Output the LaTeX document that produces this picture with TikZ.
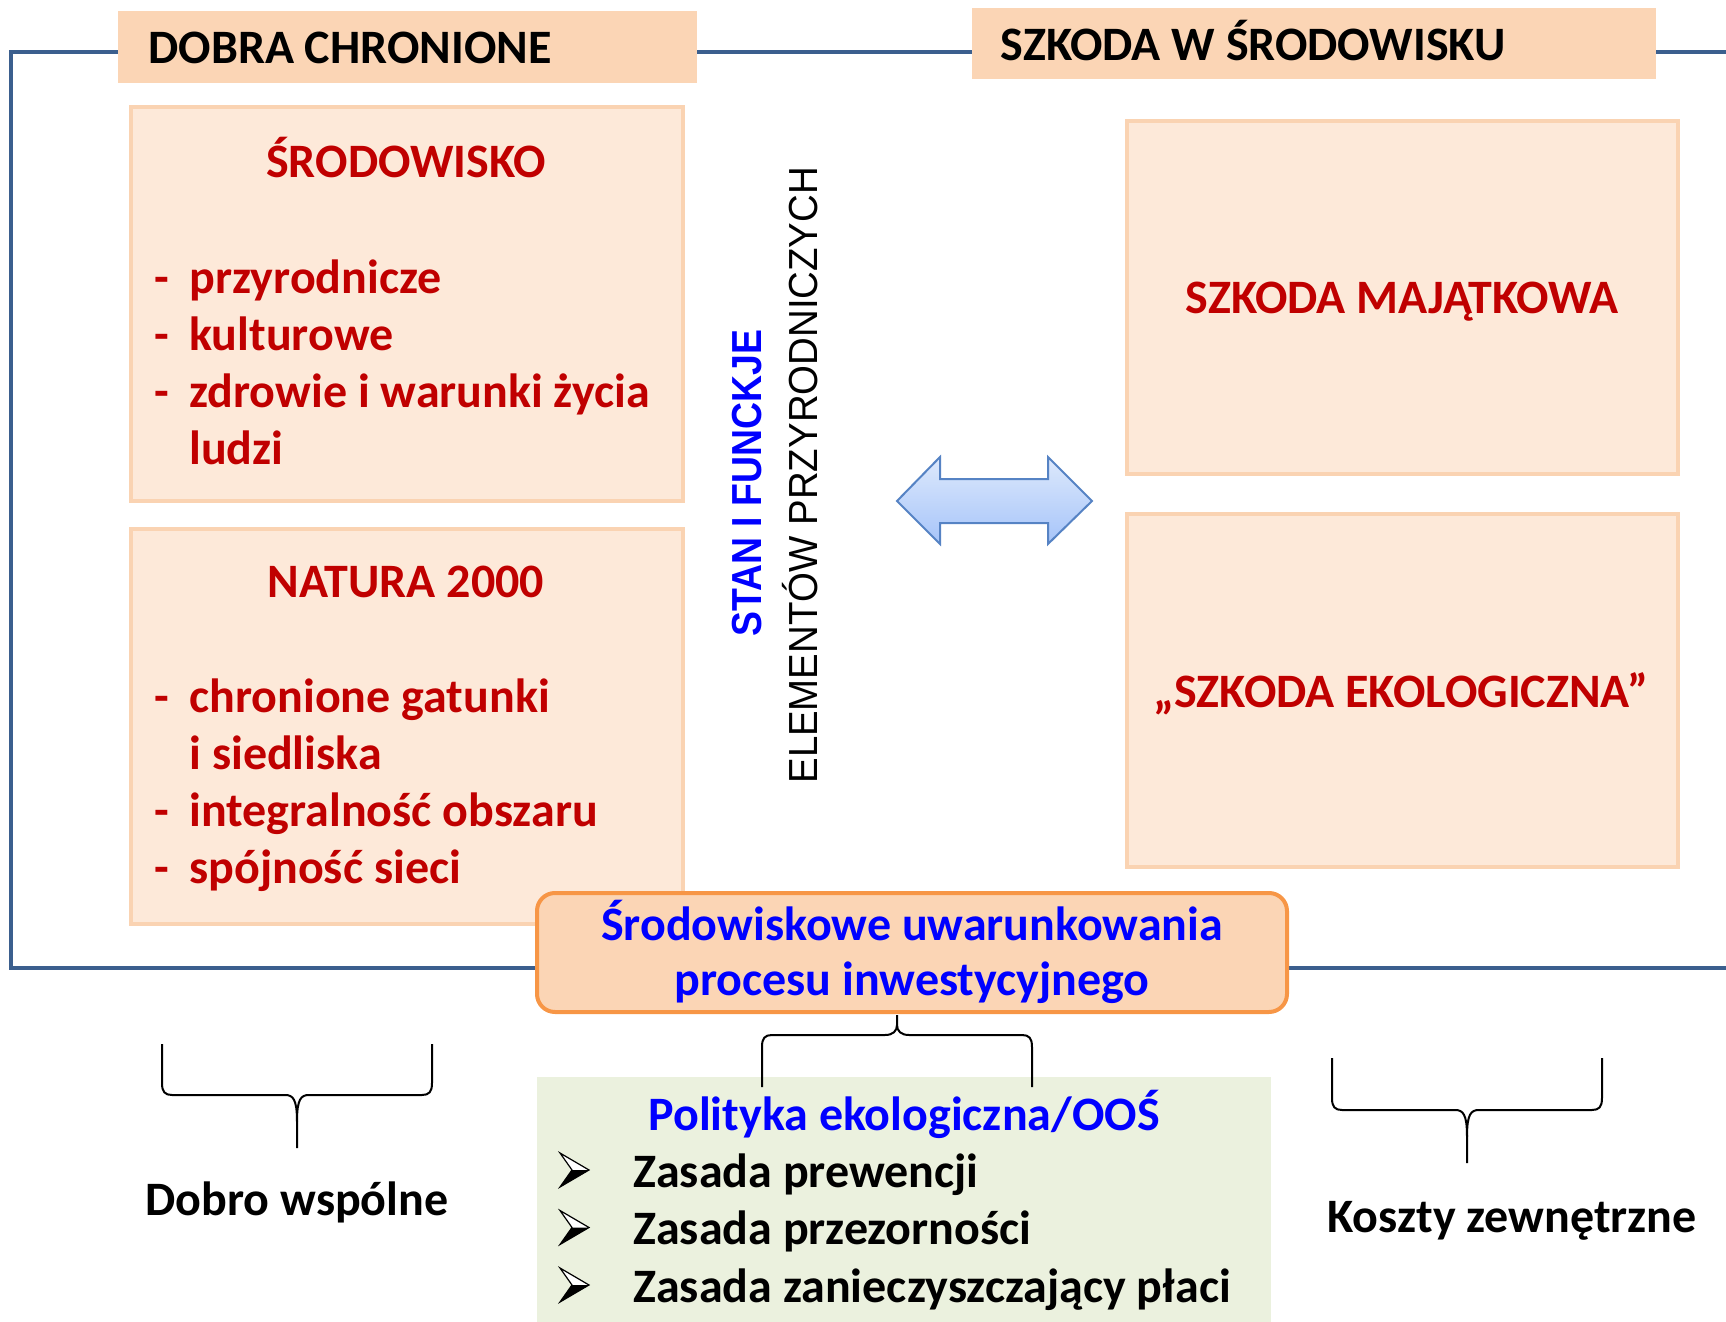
\documentclass[tikz,border=0pt]{standalone}
\usepackage{fontspec}
\setmainfont{Carlito}
\newfontfamily\vertfont{Liberation Sans}
\usepackage{graphicx}
\usepackage{tikz}
\usetikzlibrary{positioning}

\definecolor{framecol}{HTML}{3B5F8E}
\definecolor{hdrfill}{HTML}{FBD5B5}
\definecolor{boxfill}{HTML}{FDE9D9}
\definecolor{boxline}{HTML}{FAD3B2}
\definecolor{txtred}{HTML}{C00000}
\definecolor{txtblue}{HTML}{0000FF}
\definecolor{ornline}{HTML}{F79646}
\definecolor{grnfill}{HTML}{EBF1DE}
\definecolor{arrline}{HTML}{5683C4}
\definecolor{arrtop}{HTML}{DDE9FC}
\definecolor{arrbot}{HTML}{A6C4F9}

\tikzset{
  txt/.style={font=\fontsize{24}{28.5}\selectfont\bfseries, inner sep=0pt},
  redtxt/.style={txt, text=txtred},
  bluetxt/.style={txt, text=txtblue},
  pbox/.style={fill=boxfill, draw=boxline, line width=2.2pt},
  brace/.style={line width=1pt},
  pics/bracedown/.style 2 args={code={
    \draw[brace] (-135,-#1) -- (-135,-12) .. controls (-135,-3) and (-132,0) .. (-125,0)
      -- (-12,0) .. controls (-4,0) and (0,4) .. (0,{#2/2}) -- (0,#2);
    \draw[brace] (135,-#1) -- (135,-12) .. controls (135,-3) and (132,0) .. (125,0)
      -- (12,0) .. controls (4,0) and (0,4) .. (0,{#2/2});
  }},
  pics/bulletarrow/.style={code={
    \filldraw[fill=white, line width=0.6pt] (0,0) -- (-29,-17) -- (-17,0) -- (-29,17) -- cycle;
    \fill (0,0) -- (-17,0) -- (-29,17) -- cycle;
  }},
}

\begin{document}
\begin{tikzpicture}[x=0.5pt, y=-0.5pt]
  \useasboundingbox (0,0) rectangle (1726,1322);

  % frame and headers
  \draw[framecol, line width=2pt] (1726,52) -- (11,52) -- (11,968) -- (1726,968);
  \fill[hdrfill] (118,11) rectangle (697,83);
  \fill[hdrfill] (972,8) rectangle (1656,79);
  \node[txt, anchor=base west] (dobra) at (148,64) {DOBRA CHRONIONE};
  \node[txt, anchor=base west] (szkoda) at (1000,61) {SZKODA W ŚRODOWISKU};

  % left boxes
  \draw[pbox] (131,107) rectangle (683,501);
  \node[redtxt, anchor=base] (srod) at (406,177) {ŚRODOWISKO};
  \node[redtxt, anchor=base west] (srodlist) at (154,293) {%
    \begin{tabular}[t]{@{}l@{}}
      \makebox[17.5pt][l]{-}przyrodnicze\\
      \makebox[17.5pt][l]{-}kulturowe\\
      \makebox[17.5pt][l]{-}zdrowie i warunki życia\\
      \hspace*{17.5pt}ludzi
    \end{tabular}};

  \draw[pbox] (131,529) rectangle (683,924);
  \node[redtxt, anchor=base] (natura) at (406,597) {NATURA 2000};
  \node[redtxt, anchor=base west] (naturalist) at (154,712) {%
    \begin{tabular}[t]{@{}l@{}}
      \makebox[17.5pt][l]{-}chronione gatunki\\
      \hspace*{17.5pt}i siedliska\\
      \makebox[17.5pt][l]{-}integralność obszaru\\
      \makebox[17.5pt][l]{-}spójność sieci
    \end{tabular}};

  % vertical labels
  \node[rotate=90, anchor=base west, inner sep=0pt, text=txtblue,
    font={\vertfont\bfseries\fontsize{21}{25}\selectfont}] (stan) at (761,637)
    {\scalebox{0.89}[1]{STAN I FUNCKJE}};
  \node[rotate=90, anchor=base west, inner sep=0pt,
    font={\vertfont\fontsize{20.3}{24}\selectfont}] (elem) at (817,784)
    {\scalebox{0.946}[1]{ELEMENTÓW PRZYRODNICZYCH}};

  % double arrow
  \draw[arrline, line width=1pt, top color=arrtop, bottom color=arrbot]
    (897,501) -- (940,457) -- (940,479) -- (1048,479) -- (1048,457) -- (1092,501)
    -- (1048,544) -- (1048,523) -- (940,523) -- (940,544) -- cycle;

  % right boxes
  \draw[pbox] (1127,121) rectangle (1678,474);
  \node[redtxt, anchor=base] (majatek) at (1402,314) {SZKODA MAJĄTKOWA};
  \draw[pbox] (1127,514) rectangle (1678,867);
  \node[redtxt, anchor=base] (ekolog) at (1401,707) {„SZKODA EKOLOGICZNA”};

  % investment box
  \draw[fill=hdrfill, draw=ornline, line width=2pt, rounded corners=9pt]
    (537,893) rectangle (1287,1012);
  \node[bluetxt, anchor=base] (uwar) at (912,940) {Środowiskowe uwarunkowania};
  \node[bluetxt, anchor=base] (proces) at (912,995) {procesu inwestycyjnego};

  % policy box
  \fill[grnfill] (537,1077) rectangle (1271,1322);
  \node[bluetxt, anchor=base] (polityka) at (904,1130) {Polityka ekologiczna/OOŚ};
  \foreach \zasada [count=\i from 0] in {Zasada prewencji, Zasada przezorności,
      Zasada zanieczyszczający płaci} {
    \pic at (589,{1170+57.5*\i}) {bulletarrow};
    \node[txt, anchor=base west] (zasada\i) at (633,{1187+57.5*\i}) {\zasada};
  }

  % braces and bottom labels
  \pic at (297,1095) {bracedown={51}{53}};
  \pic at (1467,1110) {bracedown={52}{53}};
  \pic[yscale=-1] at (897,1035) {bracedown={52}{20}};
  \node[txt, anchor=base] (dobro) at (297,1215) {Dobro wspólne};
  \node[txt, anchor=base] (koszty) at (1512,1232) {Koszty zewnętrzne};
\end{tikzpicture}
\end{document}
